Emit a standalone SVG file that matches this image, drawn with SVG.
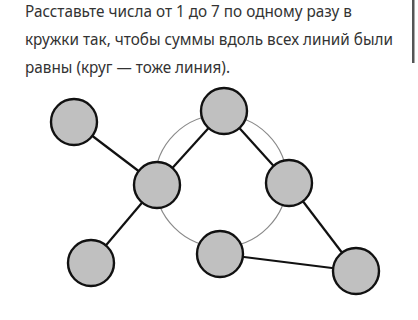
<svg xmlns="http://www.w3.org/2000/svg" width="418" height="320" viewBox="0 0 418 320">
<style>
.t{font-family:"Noto Sans","Open Sans",sans-serif;font-size:17px;fill:#333}
.n{fill:#c0c0c0;stroke:#111;stroke-width:2.4}
.c{stroke:#111;stroke-width:2.2;fill:none}
.ring{stroke:#8a8a8a;stroke-width:1.2;fill:none}
</style>
<rect width="418" height="320" fill="#fff"/>
<rect x="412" y="0" width="2.5" height="63" fill="#555"/>
<text class="t" x="25" y="17" textLength="327" lengthAdjust="spacingAndGlyphs">Расставьте числа от 1 до 7 по одному разу в</text>
<text class="t" x="25" y="45" textLength="368" lengthAdjust="spacingAndGlyphs">кружки так, чтобы суммы вдоль всех линий были</text>
<text class="t" x="25" y="73" textLength="205" lengthAdjust="spacingAndGlyphs">равны (круг — тоже линия).</text>
<g id="connectors">
<circle class="ring" cx="221" cy="181" r="66"/>
<line class="c" x1="74" y1="122" x2="157" y2="185"/>
<line class="c" x1="157" y1="185" x2="91" y2="263"/>
<line class="c" x1="157" y1="185" x2="224" y2="111"/>
<line class="c" x1="224" y1="111" x2="289" y2="183"/>
<line class="c" x1="289" y1="183" x2="356" y2="271"/>
<line class="c" x1="220" y1="254" x2="356" y2="271"/>
</g>
<g id="node-top-left"><circle class="n" cx="74" cy="122" r="23"/></g>
<g id="node-center-left"><circle class="n" cx="157" cy="185" r="23"/></g>
<g id="node-bottom-left"><circle class="n" cx="91" cy="263" r="23"/></g>
<g id="node-top"><circle class="n" cx="224" cy="111" r="23"/></g>
<g id="node-right"><circle class="n" cx="289" cy="183" r="23"/></g>
<g id="node-bottom-center"><circle class="n" cx="220" cy="254" r="23"/></g>
<g id="node-bottom-right"><circle class="n" cx="356" cy="271" r="23"/></g>
</svg>
